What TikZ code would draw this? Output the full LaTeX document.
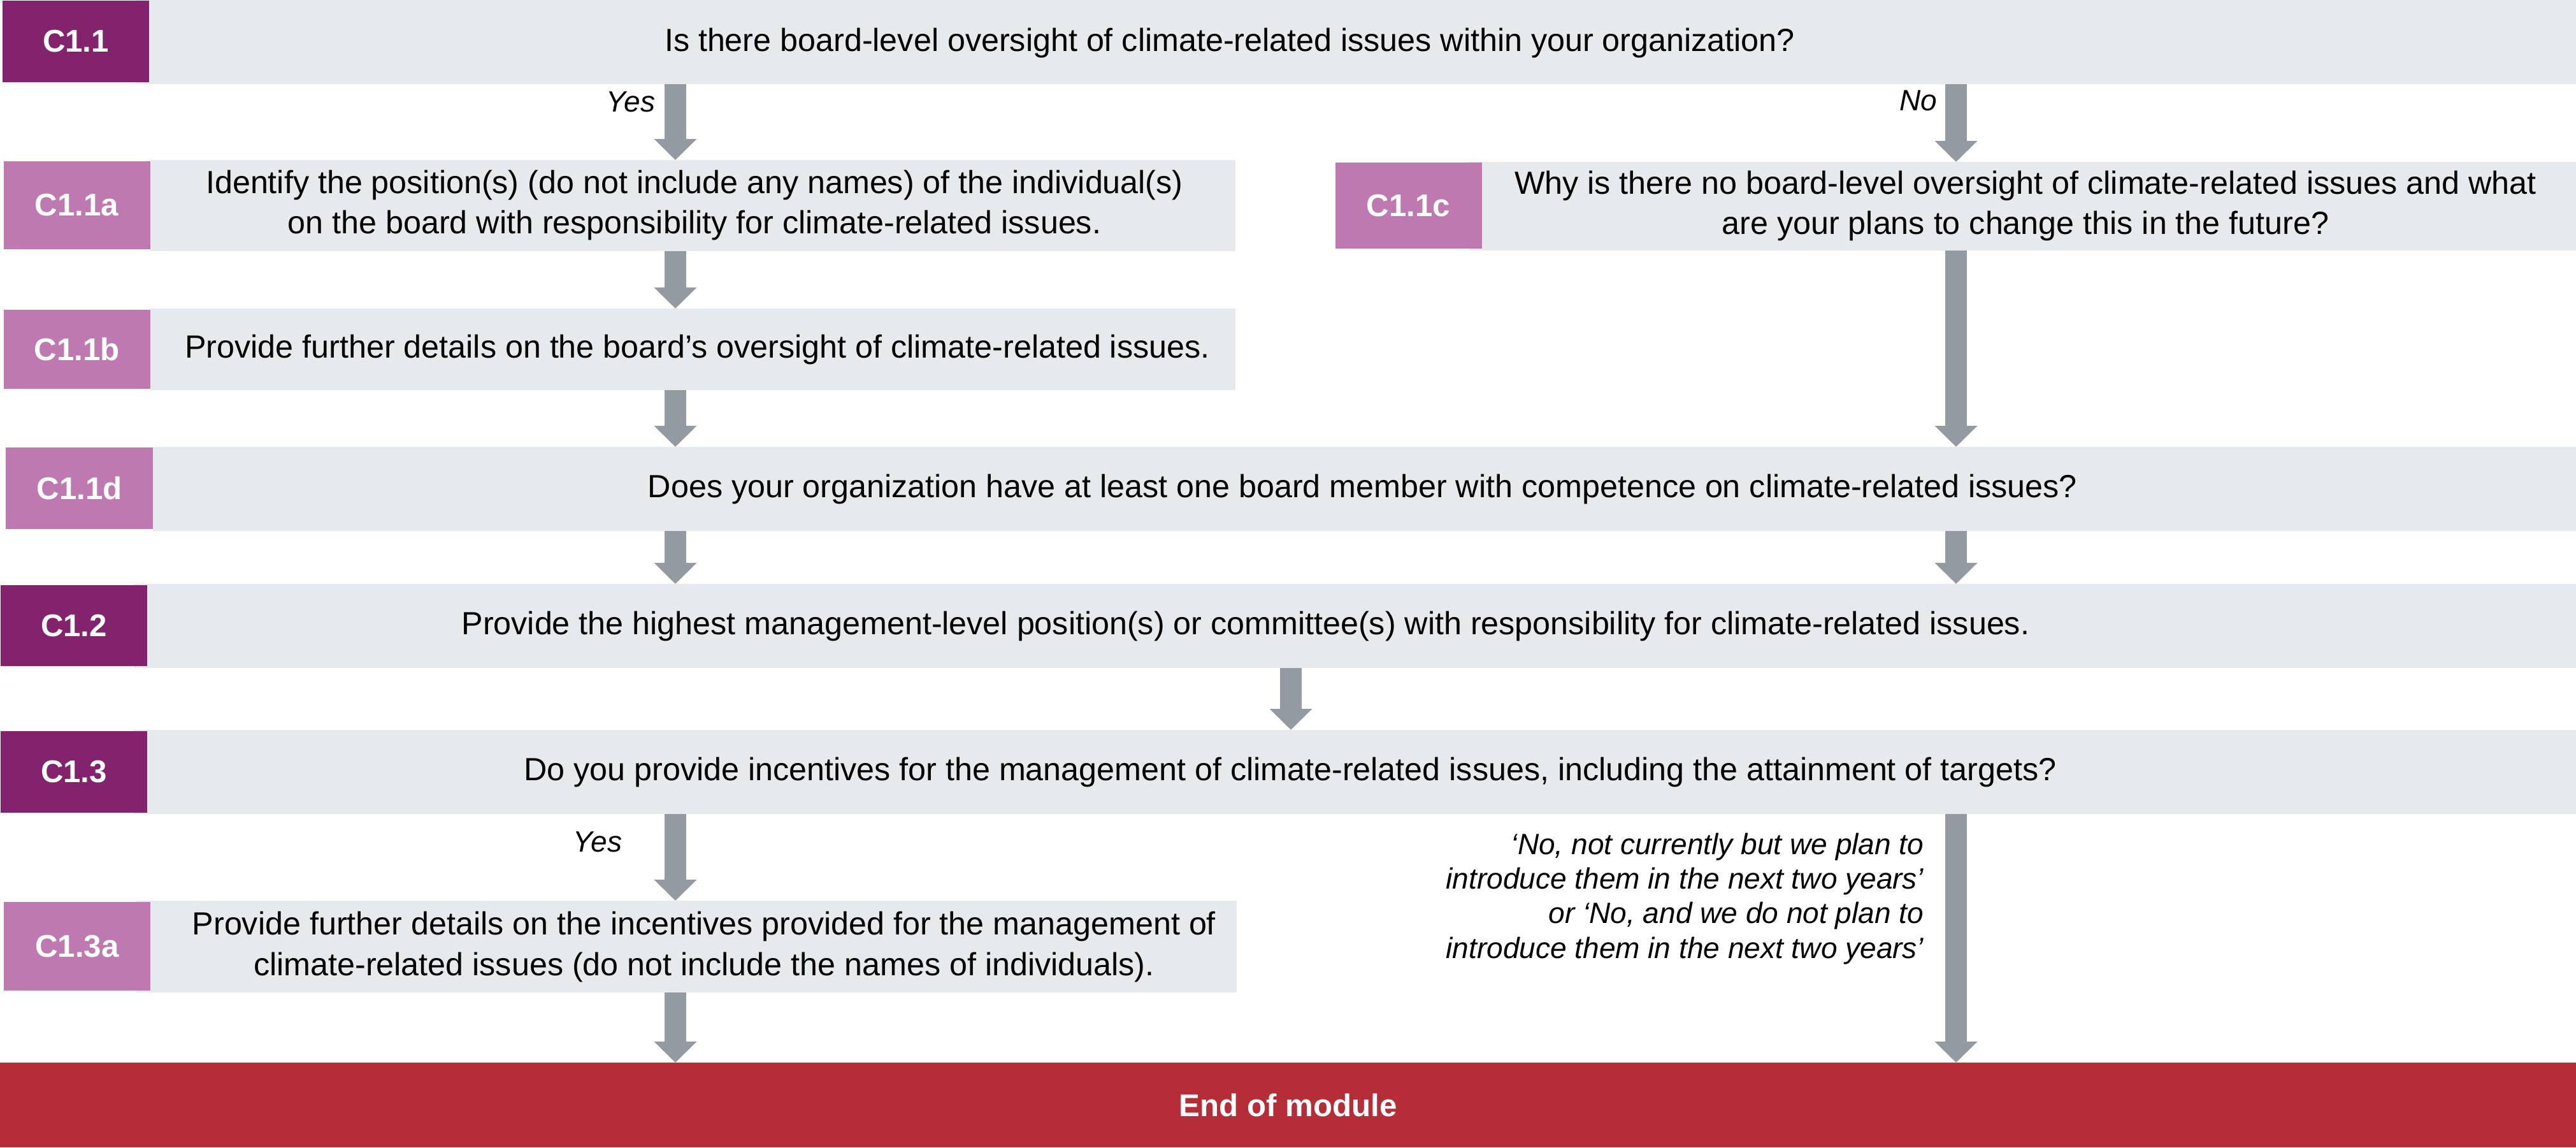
\documentclass[tikz,border=0pt]{standalone}
\usepackage{fontspec}
\setmainfont{Liberation Sans}
\usepackage{tikz}
\usetikzlibrary{arrows.meta,positioning}
\definecolor{plumdark}{RGB}{131,35,110}
\definecolor{plumlight}{RGB}{190,122,176}
\definecolor{bargray}{RGB}{231,234,237}
\definecolor{arrowgray}{RGB}{147,154,161}
\definecolor{endred}{RGB}{181,45,54}

\begin{document}
\begin{tikzpicture}[
        bar/.style={fill=bargray, inner sep=0pt, outer sep=0pt},
        tag/.style={text=white, inner sep=0pt, outer sep=0pt, minimum width=2.3cm,
            font=\fontsize{14}{17}\selectfont\bfseries},
        qtext/.style={align=center, font=\fontsize{14.3}{18.2}\selectfont},
        lab/.style={anchor=east, align=right, inner sep=0pt, font=\fontsize{13.1}{15.4}\selectfont\itshape},
        arr/.style={-{Triangle[width=0.65cm, length=0.33cm]}, line width=0.34cm, arrowgray}
    ]
        \useasboundingbox (0,0) rectangle (40.43,-18);

        % 箭头所在的列
        \coordinate (colL) at (10.60,0);
        \coordinate (colM) at (20.26,0);
        \coordinate (colR) at (30.70,0);

        % C1.1
        \node[bar, minimum width=38.30cm, minimum height=1.32cm] (bar11) at (21.28,-0.66) {};
        \node[tag, fill=plumdark, minimum height=1.28cm] (tag11) at (1.19,-0.65) {C1.1};
        \node[qtext] (q11) at (19.30,-0.67) {Is there board-level oversight of climate-related issues within your organization?};

        % C1.1a
        \node[bar, minimum width=17.03cm, minimum height=1.43cm] (bar11a) at (10.875,-3.225) {};
        \node[tag, fill=plumlight, minimum height=1.38cm] (tag11a) at (1.205,-3.22) {C1.1a};
        \node[qtext] (q11a) at (10.90,-3.22) {Identify the position(s) (do not include any names) of the individual(s)\\on the board with responsibility for climate-related issues.};

        % C1.1c
        \node[bar, minimum width=17.37cm, minimum height=1.39cm] (bar11c) at (31.745,-3.235) {};
        \node[tag, fill=plumlight, minimum height=1.35cm] (tag11c) at (22.105,-3.225) {C1.1c};
        \node[qtext] (q11c) at (31.79,-3.23) {Why is there no board-level oversight of climate-related issues and what\\are your plans to change this in the future?};

        % C1.1b
        \node[bar, minimum width=17.03cm, minimum height=1.28cm] (bar11b) at (10.875,-5.48) {};
        \node[tag, fill=plumlight, minimum height=1.24cm] (tag11b) at (1.205,-5.48) {C1.1b};
        \node[qtext] (q11b) at (10.945,-5.48) {Provide further details on the board’s oversight of climate-related issues.};

        % C1.1d
        \node[bar, minimum width=38.03cm, minimum height=1.32cm] (bar11d) at (21.415,-7.67) {};
        \node[tag, fill=plumlight, minimum height=1.28cm] (tag11d) at (1.245,-7.66) {C1.1d};
        \node[qtext] (q11d) at (21.385,-7.67) {Does your organization have at least one board member with competence on climate-related issues?};

        % C1.2
        \node[bar, minimum width=38.32cm, minimum height=1.32cm] (bar12) at (21.27,-9.82) {};
        \node[tag, fill=plumdark, minimum height=1.27cm] (tag12) at (1.16,-9.815) {C1.2};
        \node[qtext] (q12) at (19.55,-9.82) {Provide the highest management-level position(s) or committee(s) with responsibility for climate-related issues.};

        % C1.3
        \node[bar, minimum width=38.33cm, minimum height=1.32cm] (bar13) at (21.265,-12.11) {};
        \node[tag, fill=plumdark, minimum height=1.28cm] (tag13) at (1.16,-12.11) {C1.3};
        \node[qtext] (q13) at (20.25,-12.11) {Do you provide incentives for the management of climate-related issues, including the attainment of targets?};

        % C1.3a
        \node[bar, minimum width=17.27cm, minimum height=1.44cm] (bar13a) at (10.775,-14.85) {};
        \node[tag, fill=plumlight, minimum height=1.39cm] (tag13a) at (1.21,-14.845) {C1.3a};
        \node[qtext] (q13a) at (11.05,-14.85) {Provide further details on the incentives provided for the management of\\climate-related issues (do not include the names of individuals).};

        % 结束
        \node[bar, fill=endred, text=white, minimum width=40.43cm, minimum height=1.33cm,
            font=\fontsize{14}{17}\selectfont\bfseries] (finish) at (20.215,-17.335) {End of module};

        % 连接
        \draw[arr] (bar11.south -| colL) -- (bar11a.north -| colL);
        \draw[arr] (bar11.south -| colR) -- (bar11c.north -| colR);
        \draw[arr] (bar11a.south -| colL) -- (bar11b.north -| colL);
        \draw[arr] (bar11b.south -| colL) -- (bar11d.north -| colL);
        \draw[arr] (bar11c.south -| colR) -- (bar11d.north -| colR);
        \draw[arr] (bar11d.south -| colL) -- (bar12.north -| colL);
        \draw[arr] (bar11d.south -| colR) -- (bar12.north -| colR);
        \draw[arr] (bar12.south -| colM) -- (bar13.north -| colM);
        \draw[arr] (bar13.south -| colL) -- (bar13a.north -| colL);
        \draw[arr] (bar13.south -| colR) -- (finish.north -| colR);
        \draw[arr] (bar13a.south -| colL) -- (finish.north -| colL);

        % 箭头标注
        \node[lab] (yes1) at (10.29,-1.60) {Yes};
        \node[lab] (no1) at (30.41,-1.58) {No};
        \node[lab] (yes2) at (9.77,-13.21) {Yes};
        \node[lab] (no2) at (30.20,-14.10) {‘No, not currently but we plan to\\introduce them in the next two years’\\or ‘No, and we do not plan to\\introduce them in the next two years’};
    \end{tikzpicture}
\end{document}
